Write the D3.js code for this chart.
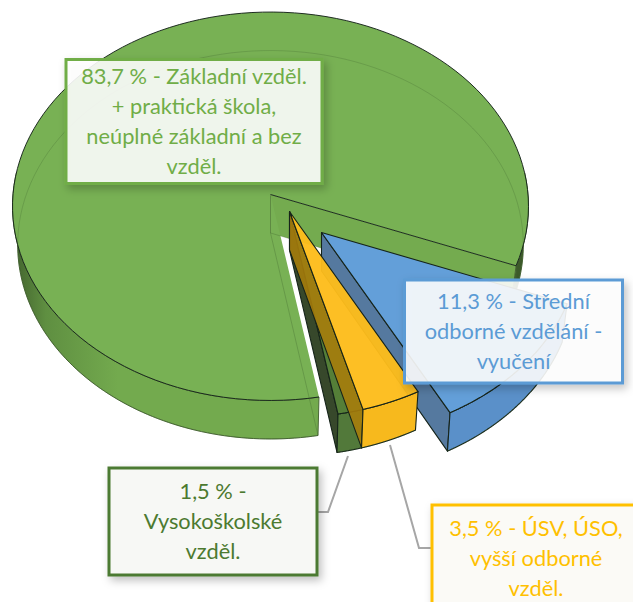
<!DOCTYPE html>
<html><head><meta charset="utf-8">
<script src="https://cdn.jsdelivr.net/npm/d3@7"></script>
<style>html,body{margin:0;background:#fff}svg{display:block}text{font-family:Lato,"Open Sans",sans-serif}</style>
</head><body><svg id="c" width="633" height="602"></svg>
<script>
const categories=["Základní vzděl. + praktická škola, neúplné základní a bez vzděl.","Střední odborné vzdělání - vyučení","ÚSV, ÚSO, vyšší odborné vzděl.","Vysokoškolské vzděl."];
const values=[83.7,11.3,3.5,1.5];
const valueLabels=["83,7 %","11,3 %","3,5 %","1,5 %"];
const topColors=["#78b154","#639fd9","#fdbc1b","#557f38"];
const wallColors=["url(#gw)","#5a90c9","#f7b91d","#52793a"];
const innerWallColors=["#74ab4f","#55799f","#a87d0a","#37482b"];
const explodeX=[0,51,19,19];
const explodeY=[0,38,17,17];

const cx=270.5,cy=194.5,rx=257.5,ry=193.5,persp=0.0605,depth=38.5,shrink=0.98;
const svg=d3.select("#c");
const defs=svg.append("defs");
const f=defs.append("filter").attr("id","sh").attr("x","-10%").attr("y","-10%").attr("width","125%").attr("height","130%");
f.append("feDropShadow").attr("dx",3).attr("dy",4).attr("stdDeviation",4).attr("flood-color","#000").attr("flood-opacity",.25);
const gw=defs.append("linearGradient").attr("id","gw").attr("gradientUnits","userSpaceOnUse").attr("x1",15).attr("x2",530).attr("y1",0).attr("y2",0);
[[0,"#44652f"],[.06,"#5f8f41"],[.2,"#73aa4e"],[.95,"#73aa4e"],[.975,"#3c5a2a"],[1,"#3c5a2a"]].forEach(s=>gw.append("stop").attr("offset",s[0]).attr("stop-color",s[1]));

const pie=d3.pie().sort(null).startAngle(169.8*Math.PI/180).endAngle(529.8*Math.PI/180);
const arcs=pie(values);
const proj=(r,a,i,h)=>{
  const x=r*Math.sin(a),z=-r*Math.cos(a),p=1/(1-z*persp);
  return [cx+explodeX[i]+x*rx*p*(h>0?shrink:1), cy+explodeY[i]+z*ry*p+h];
};
const line=d3.line();
const rim=(a0,a1,i,h)=>d3.range(0,121).map(k=>proj(1,a0+(a1-a0)*k/120,i,h));
const ink="#16241a";

function wedge(g,d,i){
  const a0=d.startAngle,a1=d.endAngle;
  const apex=proj(0,0,i,0),apexB=proj(0,0,i,depth);
  const w=[apex,proj(1,a1,i,0),proj(1,a1,i,depth),apexB];
  g.append("path").attr("d",line(w)+"Z").attr("fill",innerWallColors[i]).attr("fill-opacity",i===2?0.88:1)
    .attr("stroke",i===0?"none":ink).attr("stroke-width",1.1).attr("stroke-linejoin","round");
  const runs=[];let cur=null;
  for(let k=0;k<=240;k++){
    const a=a0+(a1-a0)*k/240;
    if(Math.cos(a)<0.12){ if(!cur){cur=[];runs.push(cur);} cur.push(a); } else cur=null;
  }
  runs.forEach(vis=>{
    const outer=[...vis.map(a=>proj(1,a,i,0)),...vis.slice().reverse().map(a=>proj(1,a,i,depth))];
    g.append("path").attr("d",line(outer)+"Z").attr("fill",wallColors[i])
      .attr("stroke",i===0?"#3f5c2c":ink).attr("stroke-width",i===0?.9:1.1).attr("stroke-linejoin","round");
  });
  const topPts=[apex,...rim(a0,a1,i,0)];
  g.append("path").attr("d",line(topPts)+"Z").attr("fill",topColors[i]).attr("fill-opacity",i===2?.96:1)
    .attr("stroke",i===0?"none":ink).attr("stroke-width",1.1).attr("stroke-linejoin","round");
  if(i===0){
    g.append("path").attr("d",line([...rim(a0,a1,i,0),apex])).attr("fill","none").attr("stroke",ink).attr("stroke-width",.95);
    g.append("path").attr("d",line([apex,apexB])).attr("fill","none").attr("stroke","#3f5c2c").attr("stroke-opacity",.45);
    g.append("path").attr("d",line([apexB,proj(1,a0,i,depth)])).attr("fill","none").attr("stroke","#3d5f2a").attr("stroke-opacity",.3);
    g.append("path").attr("d",line([apexB,proj(1,a1,i,depth)])).attr("fill","none").attr("stroke","#3d5f2a").attr("stroke-opacity",.3);
  }
  g.append("path").attr("d",line(rim(a0,a1,i,depth))).attr("fill","none").attr("stroke","#3d5f2a").attr("stroke-opacity",.25).attr("stroke-width",1);
}
[0,1,3,2].forEach(i=>wedge(svg.append("g").attr("class","slice"),arcs[i],i));

const leaders=[[[348,456],[328,512],[317,512]],[[390,445],[419,548],[431,548]]];
leaders.forEach(l=>svg.append("path").attr("d",line(l)).attr("fill","none").attr("stroke","#a6a6a6").attr("stroke-width",2));

const boxes=[
 {x:66,y:59.5,w:256,h:124,c:"#70ad47",f:"#ffffff",o:.88,lines:["83,7 % - Základní vzděl.","+ praktická škola,","neúplné základní a bez","vzděl."]},
 {x:404.5,y:280,w:218,h:103,c:"#5b9bd5",f:"#ffffff",o:.88,lines:["11,3 % - Střední","odborné vzdělání -","vyučení"]},
 {x:109,y:468,w:208,h:107,c:"#4c7a30",f:"#f7f8f5",o:1,lines:["1,5 % -","Vysokoškolské","vzděl."]},
 {x:432,y:505,w:208,h:107,c:"#ffc000",f:"#fbfaf6",o:1,lines:["3,5 % - ÚSV, ÚSO,","vyšší odborné","vzděl."]}
];
boxes.forEach(b=>{
  const g=svg.append("g");
  g.append("rect").attr("x",b.x).attr("y",b.y).attr("width",b.w).attr("height",b.h)
   .attr("fill",b.f).attr("fill-opacity",b.o).attr("stroke",b.c).attr("stroke-width",3).attr("filter","url(#sh)");
  const lh=29.8,tcx=b.x+b.w/2,y0=b.y+b.h/2-(b.lines.length-1)*lh/2+7.5;
  b.lines.forEach((s,k)=>g.append("text").attr("x",tcx).attr("y",y0+k*lh).attr("text-anchor","middle")
    .attr("font-size",21.8).attr("fill",b.c).text(s));
});
</script></body></html>
